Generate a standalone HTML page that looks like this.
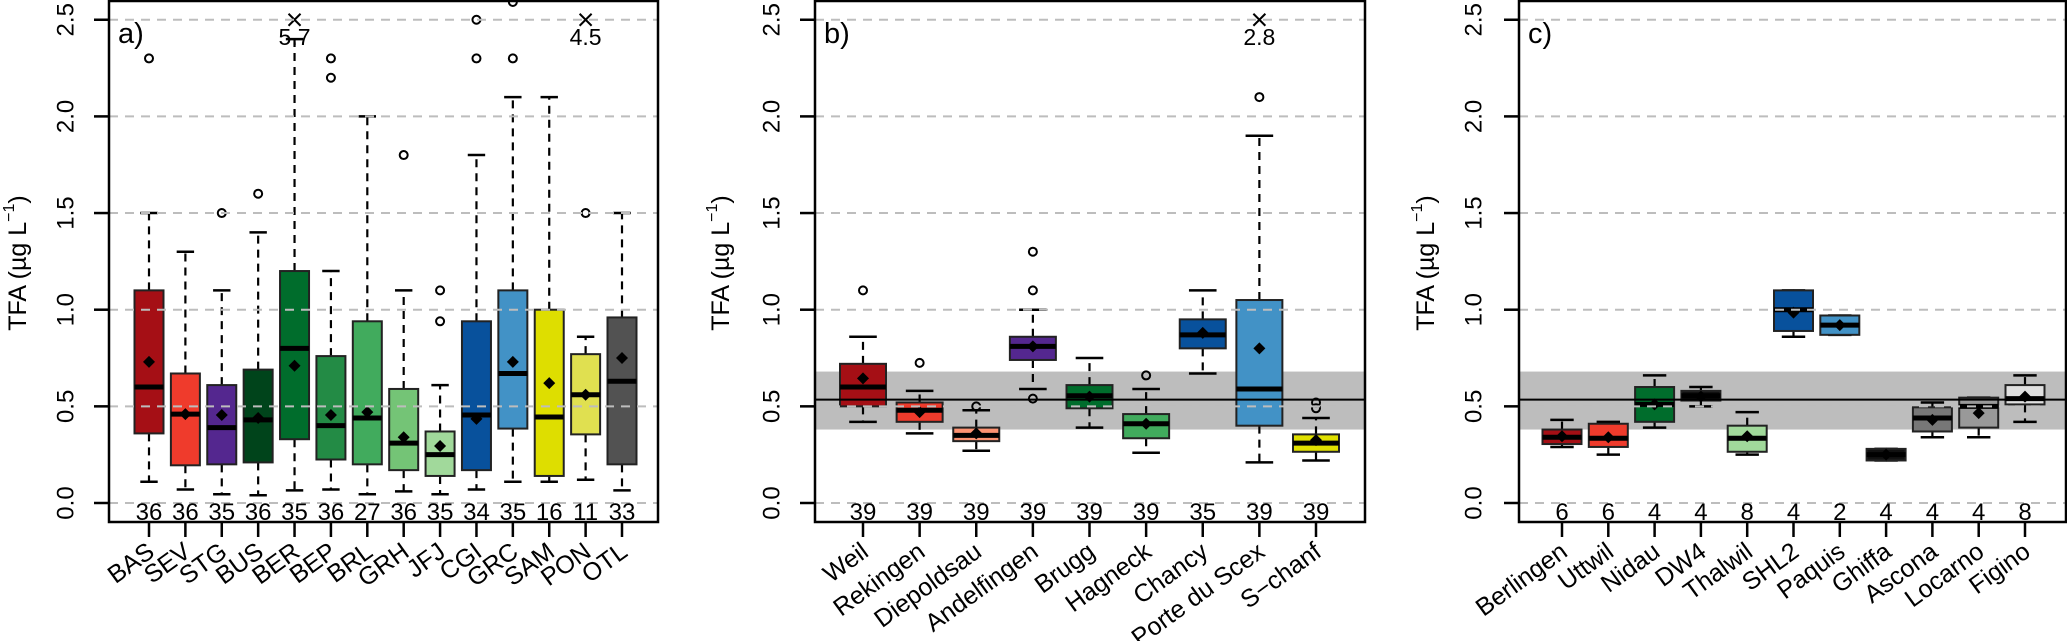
<!DOCTYPE html>
<html><head><meta charset="utf-8"><style>
html,body{margin:0;padding:0;background:#fff;}
svg{display:block;font-family:"Liberation Sans",sans-serif;}
</style></head><body>
<svg id="chart" width="2067" height="641" viewBox="0 0 2067 641" xmlns="http://www.w3.org/2000/svg"></svg>
<script>
// ---------- data ----------
const namesA = ["BAS","SEV","STG","BUS","BER","BEP","BRL","GRH","JFJ","CGI","GRC","SAM","PON","OTL"];
const countsA = [36,36,35,36,35,36,27,36,35,34,35,16,11,33];
const q1A = [0.36,0.195,0.20,0.21,0.33,0.225,0.20,0.17,0.14,0.17,0.385,0.14,0.355,0.20];
const q3A = [1.10,0.67,0.61,0.69,1.20,0.76,0.94,0.59,0.37,0.94,1.10,1.00,0.77,0.96];
const medA = [0.60,0.46,0.39,0.43,0.80,0.40,0.44,0.31,0.25,0.455,0.67,0.445,0.56,0.63];
const meanA = [0.73,0.46,0.455,0.44,0.71,0.455,0.47,0.34,0.295,0.435,0.73,0.62,0.56,0.75];
const loA = [0.11,0.07,0.045,0.04,0.065,0.07,0.045,0.06,0.045,0.07,0.11,0.11,0.12,0.065];
const hiA = [1.5,1.3,1.1,1.4,2.4,1.2,2.0,1.1,0.61,1.8,2.1,2.1,0.86,1.5];
const outA = [[2.3],[],[1.5],[1.6],[],[2.3,2.2],[],[1.8],[1.1,0.94],[2.5,2.3],[2.3,2.6],[],[1.5],[]];
const offA = [null,null,null,null,"5.7",null,null,null,null,null,null,null,"4.5",null];
const colA = ["#a50f15","#ef3b2c","#54278f","#00441b","#006d2c","#238b45","#41ab5d","#74c476","#a1d99b","#08519c","#4292c6","#dede00","#e0e050","#525252"];

const namesB = ["Weil","Rekingen","Diepoldsau","Andelfingen","Brugg","Hagneck","Chancy","Porte du Scex","S\u2212chanf"];
const countsB = [39,39,39,39,39,39,35,39,39];
const q1B = [0.50,0.42,0.32,0.74,0.49,0.335,0.80,0.40,0.265];
const q3B = [0.72,0.52,0.39,0.86,0.61,0.46,0.95,1.05,0.355];
const medB = [0.60,0.48,0.35,0.81,0.555,0.41,0.87,0.59,0.31];
const meanB = [0.645,0.47,0.36,0.81,0.55,0.41,0.88,0.80,0.325];
const loB = [0.42,0.36,0.27,0.59,0.39,0.26,0.67,0.21,0.22];
const hiB = [0.86,0.58,0.48,1.0,0.75,0.59,1.1,1.9,0.44];
const outB = [[1.1],[0.725],[0.50],[1.3,1.1,0.54],[],[0.66],[],[2.1],[0.49,0.52]];
const offB = [null,null,null,null,null,null,null,"2.8",null];
const colB = ["#a50f15","#ef3b2c","#fc9272","#54278f","#006d2c","#41ab5d","#08519c","#4292c6","#e0e000"];

const namesC = ["Berlingen","Uttwil","Nidau","DW4","Thalwil","SHL2","Paquis","Ghiffa","Ascona","Locarno","Figino"];
const countsC = [6,6,4,4,8,4,2,4,4,4,8];
const q1C = [0.305,0.29,0.42,0.53,0.265,0.89,0.87,0.22,0.37,0.39,0.51];
const q3C = [0.38,0.41,0.60,0.58,0.40,1.10,0.97,0.28,0.495,0.545,0.61];
const medC = [0.34,0.335,0.51,0.555,0.335,1.0,0.92,0.25,0.44,0.50,0.54];
const meanC = [0.345,0.34,0.51,0.55,0.345,0.985,0.92,0.25,0.43,0.465,0.55];
const loC = [0.29,0.25,0.39,0.50,0.25,0.86,0.87,0.22,0.34,0.34,0.42];
const hiC = [0.43,0.42,0.66,0.60,0.47,1.10,0.97,0.28,0.52,0.545,0.66];
const outC = [[],[],[],[],[],[],[],[],[],[],[]];
const offC = [null,null,null,null,null,null,null,null,null,null,null];
const colC = ["#a50f15","#ef3b2c","#006d2c","#111111","#a1d99b","#08519c","#4292c6","#111111","#777777","#999999","#e0e0e0"];

const yTicks = [0,0.5,1.0,1.5,2.0,2.5];
const yTickLabels = ["0.0","0.5","1.0","1.5","2.0","2.5"];
const bandLo = 0.38, bandHi = 0.68, refLine = 0.535;

// ---------- drawing ----------
const NS = "http://www.w3.org/2000/svg";
const svg = document.getElementById("chart");
function mk(tag, attrs, parent){
  const e = document.createElementNS(NS, tag);
  for (const k in attrs) e.setAttribute(k, attrs[k]);
  (parent||svg).appendChild(e);
  return e;
}
const Y0 = 503, PXU = 193.3, TOP = 1, BOT = 522;
function yS(v){ return Y0 - v*PXU; }

function panel(id, L, R, firstX, lastX, bw, names, counts, q1, q3, med, mean, lo, hi, outs, offs, cols, letter, tickLX, titleX, wband){
  const g = mk("g", {});
  
  
  const n = names.length;
  const step = n > 1 ? (lastX - firstX)/(n-1) : 0;
  function xS(i){ return firstX + i*step; }
  if (wband){
    const b = mk("rect", {x:L, y:yS(bandHi), width:R-L, height:yS(bandLo)-yS(bandHi), fill:"#bdbdbd"}, g);
    
    
  }
  for (let i=0;i<n;i++){
    const bx = mk("g", {}, g);
    
    
    const x = xS(i);
    mk("line", {x1:x, x2:x, y1:yS(q3[i]), y2:yS(hi[i]), stroke:"#000", "stroke-width":2.2, "stroke-dasharray":"8,6"}, bx);
    mk("line", {x1:x, x2:x, y1:yS(q1[i]), y2:yS(lo[i]), stroke:"#000", "stroke-width":2.2, "stroke-dasharray":"8,6"}, bx);
    mk("line", {x1:x-bw*0.3, x2:x+bw*0.3, y1:yS(hi[i]), y2:yS(hi[i]), stroke:"#000", "stroke-width":2.5}, bx);
    mk("line", {x1:x-bw*0.3, x2:x+bw*0.3, y1:yS(lo[i]), y2:yS(lo[i]), stroke:"#000", "stroke-width":2.5}, bx);
    mk("rect", {x:x-bw/2, y:yS(q3[i]), width:bw, height:yS(q1[i])-yS(q3[i]), fill:cols[i], stroke:"#222", "stroke-width":2}, bx);
    mk("line", {x1:x-bw/2, x2:x+bw/2, y1:yS(med[i]), y2:yS(med[i]), stroke:"#000", "stroke-width":5}, bx);
    const my = yS(mean[i]);
    mk("polygon", {points:`${x},${my-6} ${x+6},${my} ${x},${my+6} ${x-6},${my}`, fill:"#000"}, bx);
    outs[i].forEach(v=>{
      const oy = Math.max(yS(v), TOP+1);
      mk("circle", {cx:x, cy:oy, r:4, fill:"none", stroke:"#000", "stroke-width":2}, bx);
    });
    if (offs[i]){
      const cy = yS(2.5);
      mk("path", {d:`M${x-6},${cy-6}L${x+6},${cy+6}M${x+6},${cy-6}L${x-6},${cy+6}`, stroke:"#000", "stroke-width":2}, bx);
      const t = mk("text", {x:x, y:cy+25, "text-anchor":"middle", "font-size":23}, bx);
      t.textContent = offs[i];
    }
  }
  yTicks.forEach(v=>{
    const gl = mk("line", {x1:L, x2:R, y1:yS(v), y2:yS(v), stroke:"#bdbdbd", "stroke-width":2, "stroke-dasharray":"9,7"}, g);
    
    
  });
  if (wband){
    const rl = mk("line", {x1:L, x2:R, y1:yS(refLine), y2:yS(refLine), stroke:"#000", "stroke-width":2}, g);
    
    
  }
  const fr = mk("rect", {x:L, y:TOP, width:R-L, height:BOT-TOP, fill:"none", stroke:"#000", "stroke-width":2.5}, g);
  
  
  yTicks.forEach((v,k)=>{
    mk("line", {x1:L-15, x2:L, y1:yS(v), y2:yS(v), stroke:"#000", "stroke-width":2.5}, g);
    const t = mk("text", {x:0, y:0, transform:`translate(${tickLX},${yS(v)}) rotate(-90)`, "text-anchor":"middle", "dominant-baseline":"central", "font-size":24}, g);
    
    
    t.textContent = yTickLabels[k];
  });
  const yt = mk("text", {x:0, y:0, transform:`translate(${titleX},263) rotate(-90)`, "text-anchor":"middle", "dominant-baseline":"central", "font-size":25}, g);
  
  
  yt.innerHTML = 'TFA (\u00b5g L<tspan dy="-9" font-size="16">\u22121</tspan><tspan dy="9">)</tspan>';
  const pl = mk("text", {x:L+9, y:43, "font-size":29}, g);
  
  
  pl.textContent = letter + ")";
  for (let i=0;i<n;i++){
    const x = xS(i);
    mk("line", {x1:x, x2:x, y1:BOT, y2:537, stroke:"#000", "stroke-width":2.5}, g);
    const c = mk("text", {x:x, y:520, "text-anchor":"middle", "font-size":24}, g);
    
    
    c.textContent = counts[i];
    const lb = mk("text", {x:0, y:0, transform:`translate(${x+7},${555}) rotate(-36)`, "text-anchor":"end", "font-size":25}, g);
    
    
    lb.textContent = names[i];
  }
}
panel("a", 109, 658, 149, 622, 29, namesA, countsA, q1A, q3A, medA, meanA, loA, hiA, outA, offA, colA, "a", 66, 18, false);
panel("b", 815, 1365, 863, 1316, 46, namesB, countsB, q1B, q3B, medB, meanB, loB, hiB, outB, offB, colB, "b", 772, 721, true);
panel("c", 1519, 2066, 1562, 2025, 39, namesC, countsC, q1C, q3C, medC, meanC, loC, hiC, outC, offC, colC, "c", 1474, 1426, true);
</script>
</body></html>
